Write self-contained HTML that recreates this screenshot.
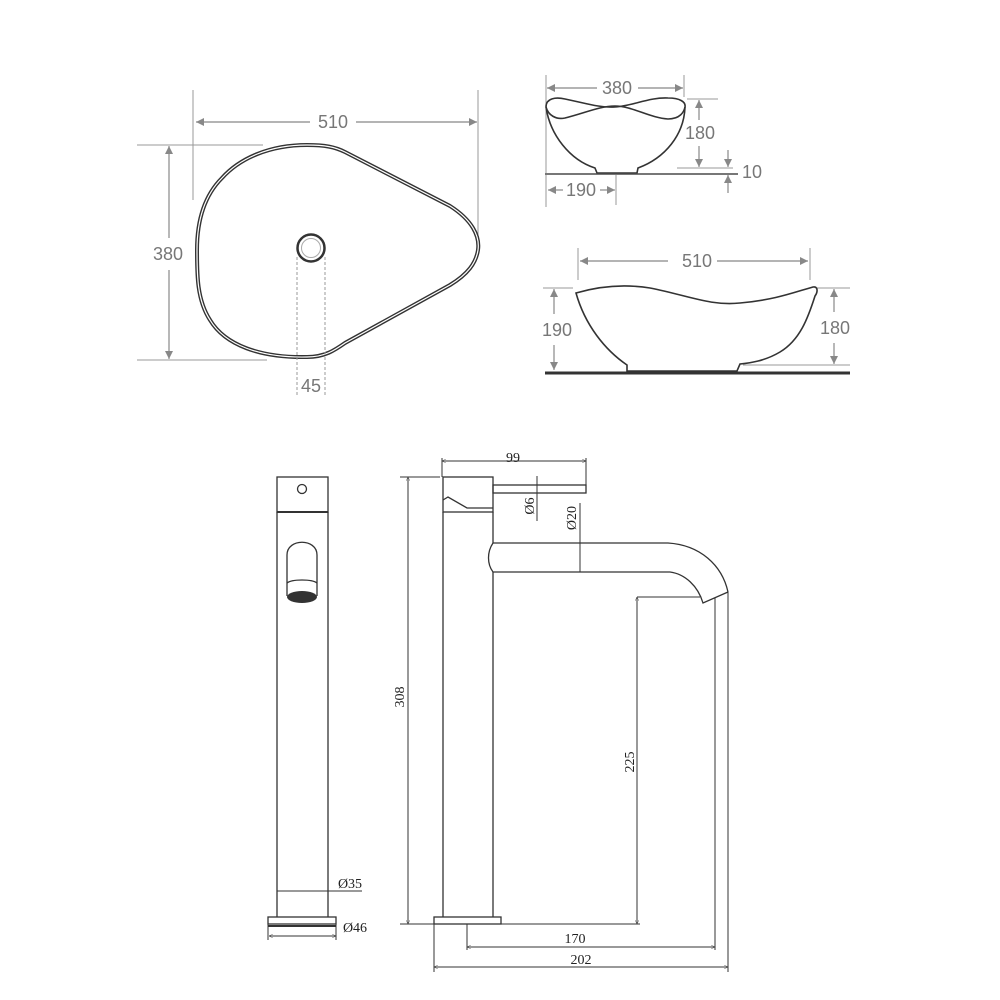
<!DOCTYPE html>
<html><head><style>html,body{margin:0;padding:0;background:#fff}svg{display:block}</style></head>
<body>
<svg width="1000" height="1000" viewBox="0 0 1000 1000" xmlns="http://www.w3.org/2000/svg">
<defs>
<marker id="ag" viewBox="0 0 10 10" refX="10" refY="5" markerWidth="10" markerHeight="8" orient="auto-start-reverse" markerUnits="userSpaceOnUse"><path d="M0,0 L10,5 L0,10 z" fill="#888"/></marker>
<marker id="ab" viewBox="0 0 10 10" refX="10" refY="5" markerWidth="7" markerHeight="4" orient="auto-start-reverse" markerUnits="userSpaceOnUse"><path d="M0,0 L10,5 L0,10" fill="none" stroke="#333"/></marker>
</defs>

<!-- Top-left basin plan -->
<g fill="none">
<g stroke="#999" stroke-width="1">
<line x1="193" y1="90" x2="193" y2="200"/>
<line x1="478" y1="90" x2="478" y2="237"/>
<line x1="137" y1="145" x2="263" y2="145"/>
<line x1="137" y1="360" x2="267" y2="360"/>
</g>
<g stroke="#888" stroke-width="1.2">
<line x1="196" y1="122" x2="310" y2="122" marker-start="url(#ag)"/>
<line x1="356" y1="122" x2="477" y2="122" marker-end="url(#ag)"/>
<line x1="169" y1="146" x2="169" y2="238" marker-start="url(#ag)"/>
<line x1="169" y1="270" x2="169" y2="359" marker-end="url(#ag)"/>
</g>
<path d="M307,145 C325,145 335,147 345,152 L450,206 C472,220 480,236 478,250 C476,263 468,274 450,285 L345,343 C335,350 325,357 307,357 C260,358 225,345 210,320 C197,300 197,275 197,250 C197,220 205,195 222,178 C240,158 270,145 307,145 Z" stroke="#333" stroke-width="4"/>
<path d="M307,145 C325,145 335,147 345,152 L450,206 C472,220 480,236 478,250 C476,263 468,274 450,285 L345,343 C335,350 325,357 307,357 C260,358 225,345 210,320 C197,300 197,275 197,250 C197,220 205,195 222,178 C240,158 270,145 307,145 Z" stroke="#fff" stroke-width="1.2"/>
<circle cx="311" cy="248" r="13.5" stroke="#333" stroke-width="2.5"/>
<circle cx="311" cy="248" r="9.5" stroke="#aaa" stroke-width="1"/>
<g stroke="#999" stroke-width="1" stroke-dasharray="3,2">
<line x1="297" y1="257" x2="297" y2="395"/>
<line x1="325" y1="257" x2="325" y2="395"/>
</g>
</g>
<g font-family="Liberation Sans, sans-serif" font-size="18" fill="#777" text-anchor="middle">
<text x="333" y="128">510</text>
<text x="168" y="260">380</text>
<text x="311" y="392">45</text>
</g>

<!-- Top-right small bowl -->
<g fill="none">
<g stroke="#999" stroke-width="1">
<line x1="546" y1="75" x2="546" y2="207"/>
<line x1="684" y1="75" x2="684" y2="97"/>
<line x1="687" y1="99" x2="718" y2="99"/>
<line x1="677" y1="168" x2="733" y2="168"/>
<line x1="616" y1="175" x2="616" y2="205"/>
</g>
<line x1="545" y1="174" x2="738" y2="174" stroke="#777" stroke-width="2"/>
<g stroke="#888" stroke-width="1.2">
<line x1="547" y1="88" x2="597" y2="88" marker-start="url(#ag)"/>
<line x1="638" y1="88" x2="683" y2="88" marker-end="url(#ag)"/>
<line x1="699" y1="100" x2="699" y2="120" marker-start="url(#ag)"/>
<line x1="699" y1="146" x2="699" y2="167" marker-end="url(#ag)"/>
<line x1="728" y1="150" x2="728" y2="167" marker-end="url(#ag)"/>
<line x1="728" y1="193" x2="728" y2="175" marker-end="url(#ag)"/>
<line x1="548" y1="190" x2="563" y2="190" marker-start="url(#ag)"/>
<line x1="600" y1="190" x2="615" y2="190" marker-end="url(#ag)"/>
</g>
<g stroke="#333" stroke-width="1.6">
<path d="M546,107 C546,98 556,97 565,99 C585,103 600,108 615,107 C632,106 650,97 668,98 C680,98 686,102 685,107"/>
<path d="M546,107 C548,115 556,120 565,118 C585,113 600,106 615,106 C632,106 650,118 668,119 C680,119 684,112 685,107"/>
<path d="M546,107 C550,135 570,160 595,168 L597,173 L637,173 L638,168 C665,158 684,135 685,107"/>
</g>
</g>
<g font-family="Liberation Sans, sans-serif" font-size="18" fill="#777" text-anchor="middle">
<text x="617" y="94">380</text>
<text x="700" y="139">180</text>
<text x="752" y="178">10</text>
<text x="581" y="196">190</text>
</g>

<!-- Bottom-right long bowl -->
<g fill="none">
<g stroke="#999" stroke-width="1">
<line x1="578" y1="248" x2="578" y2="280"/>
<line x1="810" y1="248" x2="810" y2="280"/>
<line x1="543" y1="288" x2="573" y2="288"/>
<line x1="817" y1="288" x2="850" y2="288"/>
<line x1="743" y1="365" x2="850" y2="365"/>
</g>
<g stroke="#888" stroke-width="1.2">
<line x1="580" y1="261" x2="668" y2="261" marker-start="url(#ag)"/>
<line x1="717" y1="261" x2="808" y2="261" marker-end="url(#ag)"/>
<line x1="554" y1="289" x2="554" y2="314" marker-start="url(#ag)"/>
<line x1="554" y1="345" x2="554" y2="370" marker-end="url(#ag)"/>
<line x1="834" y1="289" x2="834" y2="312" marker-start="url(#ag)"/>
<line x1="834" y1="343" x2="834" y2="364" marker-end="url(#ag)"/>
</g>
<line x1="545" y1="373" x2="850" y2="373" stroke="#333" stroke-width="3"/>
<path d="M576,293 C600,286 625,284 650,288 C690,296 710,306 740,303 C775,300 795,292 813,287 C818,286 818,292 815,296 C808,318 800,340 780,352 C765,361 750,363 740,364 L737,371 L627,371 L627,365 C605,350 585,325 576,293 Z" stroke="#333" stroke-width="1.6"/>
</g>
<g font-family="Liberation Sans, sans-serif" font-size="18" fill="#777" text-anchor="middle">
<text x="697" y="267">510</text>
<text x="557" y="336">190</text>
<text x="835" y="334">180</text>
</g>

<!-- Faucet side view -->
<g fill="none" stroke="#333" stroke-width="1.3">
<rect x="277" y="477" width="51" height="35"/>
<line x1="277" y1="512" x2="328" y2="512" stroke-width="2"/>
<line x1="277" y1="512" x2="277" y2="917"/>
<line x1="328" y1="512" x2="328" y2="917"/>
<circle cx="302" cy="489" r="4.5"/>
<path d="M287,596 L287,555 C287,538 317,538 317,555 L317,596"/>
<path d="M287,583 C292,579 312,579 317,583"/>
<rect x="268" y="917" width="68" height="7"/>
<line x1="268" y1="926" x2="336" y2="926" stroke-width="2"/>
<line x1="277" y1="891" x2="362" y2="891" stroke-width="1"/>
<line x1="269" y1="936" x2="336" y2="936" stroke-width="1" marker-start="url(#ab)" marker-end="url(#ab)"/>
<line x1="336" y1="924" x2="336" y2="940" stroke-width="1"/>
<line x1="268" y1="924" x2="268" y2="940" stroke-width="1"/>
</g>
<ellipse cx="302" cy="597" rx="15" ry="6" fill="#333"/>

<!-- Faucet front view -->
<g fill="none" stroke="#333" stroke-width="1.3">
<rect x="443" y="477" width="50" height="35"/>
<path d="M443,500 L448,497 L467,508 L493,508"/>
<line x1="443" y1="512" x2="443" y2="917"/>
<line x1="493" y1="512" x2="493" y2="543"/>
<line x1="493" y1="572" x2="493" y2="917"/>
<rect x="493" y="485" width="93" height="8"/>
<rect x="434" y="917" width="67" height="7"/>
<path d="M493,543 L668,543 C700,545 722,565 728,592"/>
<path d="M493,543 C487,552 487,564 493,572 L670,572 C685,574 698,586 703,603 L728,592"/>
<g stroke-width="1">
<line x1="442" y1="461" x2="586" y2="461" marker-start="url(#ab)" marker-end="url(#ab)"/>
<line x1="442" y1="458" x2="442" y2="477"/>
<line x1="586" y1="458" x2="586" y2="485"/>
<line x1="537" y1="476" x2="537" y2="521"/>
<line x1="580" y1="503" x2="580" y2="572"/>
<line x1="408" y1="477" x2="408" y2="924" marker-start="url(#ab)" marker-end="url(#ab)"/>
<line x1="400" y1="477" x2="440" y2="477"/>
<line x1="400" y1="924" x2="434" y2="924"/>
<line x1="637" y1="597" x2="637" y2="924" marker-start="url(#ab)" marker-end="url(#ab)"/>
<line x1="637" y1="597" x2="700" y2="597"/>
<line x1="501" y1="924" x2="640" y2="924"/>
<line x1="467" y1="924" x2="467" y2="950"/>
<line x1="715" y1="598" x2="715" y2="950"/>
<line x1="467" y1="947" x2="715" y2="947" marker-start="url(#ab)" marker-end="url(#ab)"/>
<line x1="434" y1="924" x2="434" y2="972"/>
<line x1="728" y1="592" x2="728" y2="972"/>
<line x1="434" y1="967" x2="728" y2="967" marker-start="url(#ab)" marker-end="url(#ab)"/>
</g>
</g>
<g font-family="Liberation Serif, serif" font-size="14" fill="#222" text-anchor="middle">
<text x="513" y="462">99</text>
<text x="350" y="888">Ø35</text>
<text x="355" y="932">Ø46</text>
<text x="575" y="943">170</text>
<text x="581" y="964">202</text>
<text transform="translate(534,506) rotate(-90)">Ø6</text>
<text transform="translate(576,518) rotate(-90)">Ø20</text>
<text transform="translate(404,697) rotate(-90)">308</text>
<text transform="translate(634,762) rotate(-90)">225</text>
</g>
</svg>
</body></html>
